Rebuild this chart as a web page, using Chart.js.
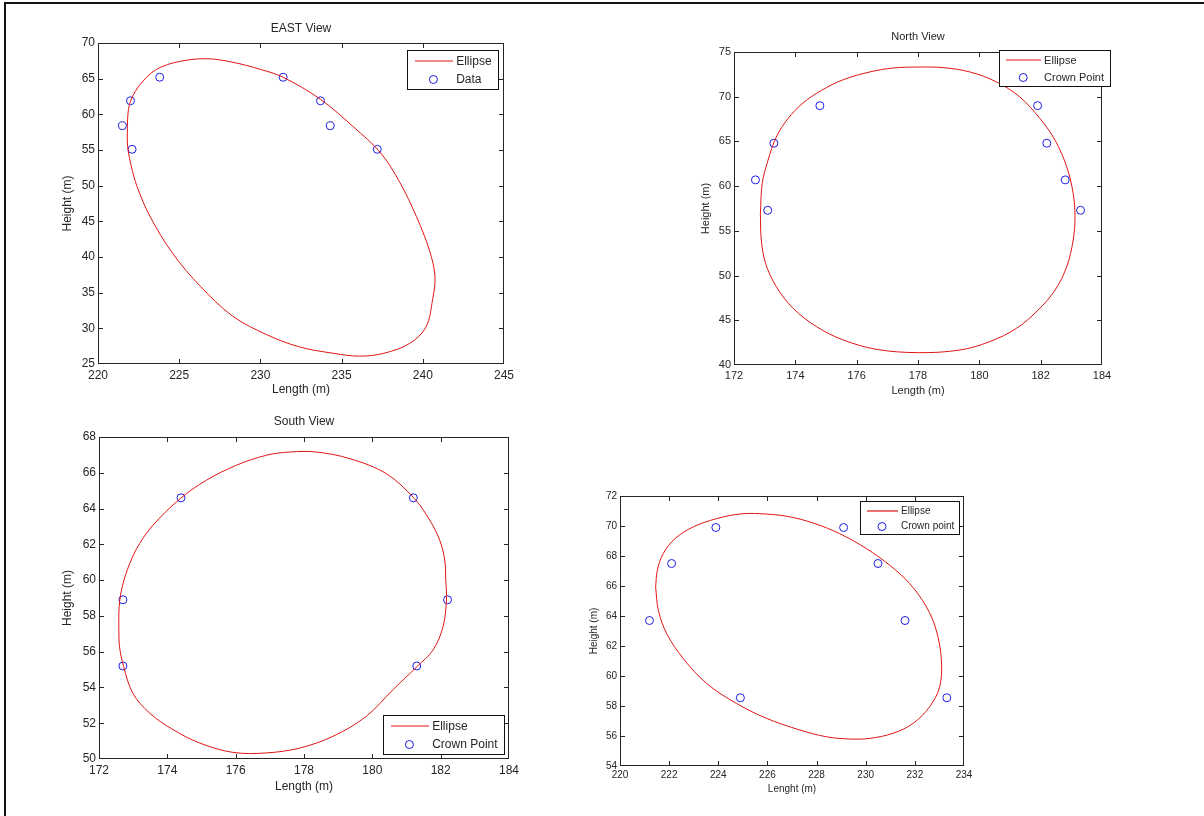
<!DOCTYPE html>
<html>
<head>
<meta charset="utf-8">
<script src="https://cdn.jsdelivr.net/npm/chart.js@4.4.1/dist/chart.umd.min.js"></script>
<style>
    html, body { margin: 0; padding: 0; background: #fff; }
    body { width: 1204px; height: 816px; position: relative; overflow: hidden; }
    canvas { position: absolute; left: 0; top: 0; }
    #frame { position: absolute; left: 4px; top: 2px; right: 0; bottom: 0; border-left: 2px solid #111; border-top: 2px solid #111; }
</style>
</head>
<body>
<div id="frame"></div>
<canvas id="east" width="1204" height="816"></canvas>
<canvas id="north" width="1204" height="816"></canvas>
<canvas id="south" width="1204" height="816"></canvas>
<canvas id="fourth" width="1204" height="816"></canvas>
<script>
// EAST view
const eastDataX = [221.5, 222.0, 222.1, 223.8, 231.4, 233.7, 234.3, 237.2];
const eastDataY = [58.4, 61.9, 55.1, 65.2, 65.2, 61.9, 58.4, 55.1];
const eastEllipseX = [221.8, 221.85, 222.05, 222.6, 223.6, 225.0, 226.7, 228.3, 230.0, 231.4, 233.7, 235.7, 237.4, 238.6, 239.6, 240.4, 240.75, 240.6, 240.2, 239.2, 237.6, 236.1, 234.5, 232.4, 230.4, 228.3, 226.3, 224.6, 223.2, 222.4, 222.05, 221.85, 221.8];
const eastEllipseY = [56.4, 60.2, 62.1, 64.2, 66.3, 67.4, 67.8, 67.3, 66.3, 65.2, 62.1, 58.3, 54.6, 50.4, 45.7, 41.0, 37.3, 34.0, 30.2, 27.9, 26.5, 26.1, 26.5, 27.4, 29.1, 31.7, 35.9, 40.5, 45.7, 49.9, 52.7, 55.0, 56.4];

// North view
const northDataX = [172.7, 173.1, 173.3, 174.8, 181.9, 182.2, 182.8, 183.3];
const northDataY = [60.7, 57.3, 64.8, 69.0, 69.0, 64.8, 60.7, 57.3];
const northEllipseX = [172.86, 172.92, 173.11, 173.38, 173.76, 174.25, 174.85, 175.56, 176.43, 177.19, 178.01, 178.82, 179.69, 180.56, 181.32, 181.98, 182.47, 182.85, 183.06, 183.12, 183.06, 182.85, 182.47, 181.92, 181.21, 180.34, 179.37, 178.01, 176.65, 175.56, 174.69, 173.93, 173.38, 173.03, 172.89, 172.86];
const northEllipseY = [56.9, 60.3, 62.9, 65.5, 67.55, 69.3, 70.7, 71.9, 72.77, 73.21, 73.32, 73.25, 72.77, 71.65, 69.97, 67.55, 65.13, 62.16, 59.18, 56.57, 53.97, 50.99, 48.38, 46.15, 44.10, 42.61, 41.68, 41.38, 41.75, 42.80, 44.29, 46.33, 48.75, 51.36, 53.97, 56.9];

// South view
const southDataX = [172.7, 172.7, 174.4, 181.2, 182.2, 181.3];
const southDataY = [58.9, 55.2, 64.6, 64.6, 58.9, 55.2];
const southEllipseX = [172.58, 172.59, 172.68, 172.90, 173.19, 173.58, 174.38, 175.14, 176.02, 176.90, 177.58, 178.36, 179.34, 180.41, 181.23, 181.68, 181.97, 182.12, 182.15, 182.17, 182.07, 181.78, 181.31, 180.60, 179.82, 178.85, 177.87, 176.90, 175.92, 174.95, 174.17, 173.48, 172.99, 172.72, 172.60, 172.58];
const southEllipseY = [57.22, 58.52, 59.63, 60.93, 62.05, 63.07, 64.56, 65.58, 66.42, 66.98, 67.16, 67.16, 66.79, 65.95, 64.56, 63.35, 62.24, 61.12, 60.00, 58.89, 57.40, 56.10, 55.17, 53.87, 52.38, 51.27, 50.61, 50.34, 50.37, 50.89, 51.64, 52.57, 53.68, 55.17, 56.29, 57.22];

// Fourth view (no title)
const fourthDataX = [221.2, 222.1, 223.9, 224.9, 229.1, 230.5, 231.6, 233.3];
const fourthDataY = [63.7, 67.5, 69.9, 58.55, 69.9, 67.5, 63.7, 58.55];
const fourthEllipseX = [221.45, 221.52, 221.76, 222.24, 222.98, 223.93, 224.88, 225.69, 226.78, 227.86, 228.94, 230.03, 230.98, 231.79, 232.47, 232.87, 233.08, 233.01, 232.60, 231.93, 231.11, 230.16, 229.35, 228.40, 227.32, 225.96, 224.74, 223.52, 222.57, 221.90, 221.56, 221.45];
const fourthEllipseY = [65.94, 67.05, 68.16, 69.16, 69.94, 70.49, 70.80, 70.82, 70.65, 70.20, 69.49, 68.49, 67.38, 66.16, 64.61, 63.06, 61.06, 59.28, 57.95, 56.84, 56.18, 55.84, 55.80, 55.95, 56.40, 57.18, 58.17, 59.51, 61.17, 62.83, 64.39, 65.94];

// axis ranges [min, max, step]
const eastXTicks = [220, 245, 5], eastYTicks = [25, 70, 5];
const northXTicks = [172, 184, 2], northYTicks = [40, 75, 5];
const southXTicks = [172, 184, 2], southYTicks = [50, 68, 2];
const fourthXTicks = [220, 234, 2], fourthYTicks = [54, 72, 2];

const RED = '#e01414';
const BLUE = '#1c1ce6';
const INK = '#262626';
const FAMILY = '"Liberation Sans", Arial, sans-serif';

const toPoints = (xs, ys) => xs.map((v, i) => ({ x: v, y: ys[i] }));

// Matlab-like box: frame, inward ticks on all sides, title, legend
const matlabFrame = {
    id: 'matlabFrame',
    afterDraw(chart, args, opts) {
        const { ctx, chartArea: a, scales: { x, y } } = chart;
        const f = opts.fontSize;
        const clampX = v => Math.min(Math.max(v, a.left + 0.5), a.right - 0.5);
        const clampY = v => Math.min(Math.max(v, a.top + 0.5), a.bottom - 0.5);
        ctx.save();
        ctx.strokeStyle = INK;
        ctx.lineWidth = 1;
        ctx.strokeRect(a.left + 0.5, a.top + 0.5, a.right - a.left - 1, a.bottom - a.top - 1);
        ctx.beginPath();
        x.ticks.forEach(t => {
            const px = clampX(Math.round(x.getPixelForValue(t.value)) + 0.5);
            ctx.moveTo(px, a.bottom); ctx.lineTo(px, a.bottom - 5);
            ctx.moveTo(px, a.top); ctx.lineTo(px, a.top + 5);
        });
        y.ticks.forEach(t => {
            const py = clampY(Math.round(y.getPixelForValue(t.value)) + 0.5);
            ctx.moveTo(a.left, py); ctx.lineTo(a.left + 5, py);
            ctx.moveTo(a.right, py); ctx.lineTo(a.right - 5, py);
        });
        ctx.stroke();

        ctx.fillStyle = INK;
        ctx.font = f + 'px ' + FAMILY;
        if (opts.title) {
            ctx.textAlign = 'center';
            ctx.textBaseline = 'middle';
            ctx.fillText(opts.title, (a.left + a.right) / 2, a.top - opts.titleGap);
        }

        // legend
        const labels = chart.data.datasets.map(d => d.label);
        const textW = Math.max(...labels.map(l => ctx.measureText(l).width));
        const w = Math.round(4.1 * f + textW + 0.5 * f);
        const h = Math.round(3.25 * f);
        const lx = Math.round(a.right - opts.legendInset[0] - w);
        const ly = opts.legendCorner === 'se'
            ? Math.round(a.bottom - opts.legendInset[1] - h)
            : Math.round(a.top + opts.legendInset[1]);
        ctx.fillStyle = '#fff';
        ctx.fillRect(lx, ly, w, h);
        ctx.strokeStyle = '#111';
        ctx.strokeRect(lx + 0.5, ly + 0.5, w, h);
        const row1 = Math.round(ly + 0.95 * f), row2 = Math.round(ly + 2.45 * f);
        // soft 2-row red sample, like the anti-aliased line in the plot
        ctx.strokeStyle = RED;
        ctx.lineWidth = 1.2;
        ctx.beginPath();
        ctx.moveTo(Math.round(lx + 0.65 * f), row1);
        ctx.lineTo(Math.round(lx + 3.8 * f), row1);
        ctx.stroke();
        ctx.lineWidth = 1;
        ctx.strokeStyle = BLUE;
        ctx.beginPath();
        ctx.arc(lx + 2.2 * f, row2 + 0.5, 4, 0, Math.PI * 2);
        ctx.stroke();
        ctx.fillStyle = INK;
        ctx.textAlign = 'left';
        ctx.textBaseline = 'middle';
        ctx.fillText(labels[0], lx + 4.1 * f, row1 + 0.5);
        ctx.fillText(labels[1], lx + 4.1 * f, row2 + 0.5);
        ctx.restore();
    }
};

function makeView(id, cfg) {
    const f = cfg.fontSize;
    const lh = f * 1.2;
    const [L, T, R, B] = cfg.box;
    const yW = cfg.yTitleGap + lh / 2;
    const xH = cfg.xTitleGap + lh / 2;
    const font = { family: FAMILY, size: f };

    return new Chart(document.getElementById(id), {
        type: 'scatter',
        data: {
            datasets: [{
                label: 'Ellipse',
                data: toPoints(cfg.ellipseX, cfg.ellipseY),
                showLine: true,
                borderColor: RED,
                borderWidth: 1,
                pointRadius: 0,
                tension: 0.35,
                fill: false
            }, {
                label: cfg.dataLabel,
                data: toPoints(cfg.dataX, cfg.dataY),
                showLine: false,
                pointStyle: 'circle',
                pointRadius: 4,
                pointBorderWidth: 1,
                pointBorderColor: BLUE,
                pointBackgroundColor: 'rgba(0,0,0,0)'
            }]
        },
        options: {
            responsive: false,
            animation: false,
            devicePixelRatio: 1,
            events: [],
            layout: { padding: { left: L - yW, top: T, right: 1204 - R, bottom: 816 - B - xH } },
            plugins: {
                legend: { display: false },
                tooltip: { enabled: false },
                matlabFrame: {
                    fontSize: f,
                    title: cfg.title,
                    titleGap: cfg.titleGap,
                    legendCorner: cfg.legendCorner,
                    legendInset: cfg.legendInset
                }
            },
            scales: {
                x: {
                    type: 'linear',
                    min: cfg.xTicks[0], max: cfg.xTicks[1],
                    ticks: { stepSize: cfg.xTicks[2], autoSkip: false, maxRotation: 0, padding: cfg.xPad, color: INK, font },
                    grid: { display: false, drawTicks: false },
                    border: { display: false },
                    title: { display: true, text: cfg.xTitle, color: INK, font, padding: { top: 0, bottom: 0 } },
                    afterFit(scale) { scale.height = xH; }
                },
                y: {
                    type: 'linear',
                    min: cfg.yTicks[0], max: cfg.yTicks[1],
                    ticks: { stepSize: cfg.yTicks[2], autoSkip: false, padding: 3, color: INK, font },
                    grid: { display: false, drawTicks: false },
                    border: { display: false },
                    title: { display: true, text: 'Height (m)', color: INK, font, padding: { top: 0, bottom: 0 } },
                    afterFit(scale) { scale.width = yW; }
                }
            }
        },
        plugins: [matlabFrame]
    });
}

makeView('east', {
    box: [98, 43, 504, 364], fontSize: 12,
    xTicks: eastXTicks, yTicks: eastYTicks,
    ellipseX: eastEllipseX, ellipseY: eastEllipseY,
    dataX: eastDataX, dataY: eastDataY, dataLabel: 'Data',
    title: 'EAST View', titleGap: 14, xTitle: 'Length (m)',
    yTitleGap: 30, xTitleGap: 26, xPad: 4,
    legendCorner: 'ne', legendInset: [6, 7]
});

makeView('north', {
    box: [734, 52, 1102, 365], fontSize: 11,
    xTicks: northXTicks, yTicks: northYTicks,
    ellipseX: northEllipseX, ellipseY: northEllipseY,
    dataX: northDataX, dataY: northDataY, dataLabel: 'Crown Point',
    title: 'North View', titleGap: 15, xTitle: 'Length (m)',
    yTitleGap: 28, xTitleGap: 26, xPad: 4,
    legendCorner: 'ne', legendInset: [-8, -2]
});

makeView('south', {
    box: [99, 437, 509, 759], fontSize: 12,
    xTicks: southXTicks, yTicks: southYTicks,
    ellipseX: southEllipseX, ellipseY: southEllipseY,
    dataX: southDataX, dataY: southDataY, dataLabel: 'Crown Point',
    title: 'South View', titleGap: 15, xTitle: 'Length (m)',
    yTitleGap: 31, xTitleGap: 28, xPad: 4,
    legendCorner: 'se', legendInset: [5, 5]
});

makeView('fourth', {
    box: [620, 496, 964, 766], fontSize: 10,
    xTicks: fourthXTicks, yTicks: fourthYTicks,
    ellipseX: fourthEllipseX, ellipseY: fourthEllipseY,
    dataX: fourthDataX, dataY: fourthDataY, dataLabel: 'Crown point',
    title: '', titleGap: 0, xTitle: 'Lenght (m)',
    yTitleGap: 26, xTitleGap: 23, xPad: 3,
    legendCorner: 'ne', legendInset: [5, 5]
});
</script>
</body>
</html>
